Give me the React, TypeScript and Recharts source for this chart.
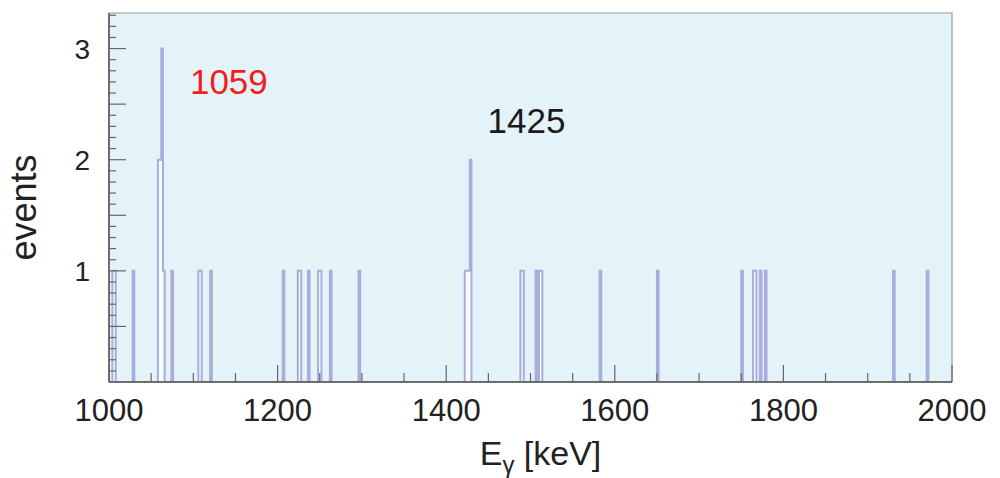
import React from 'react'
import { ComposedChart, Area, XAxis, YAxis, CartesianGrid, ReferenceArea, ReferenceDot } from 'recharts'

// 2 keV bins, only non-empty bins listed
const binWidth = 2
const binStarts = [
  1004, 1006, 1028, 1058, 1060, 1062, 1064, 1074, 1106, 1108, 1120, 1206, 1224, 1226, 1236, 1248, 1250, 1262, 1296,
  1422, 1424, 1426, 1428, 1488, 1490, 1506, 1510, 1512, 1582, 1650, 1750, 1764, 1766, 1772, 1778, 1930, 1970,
]
const binCounts = [
  1, 1, 1, 2, 2, 3, 1, 1, 1, 1, 1, 1, 1, 1, 1, 1, 1, 1, 1,
  1, 1, 1, 2, 1, 1, 1, 1, 1, 1, 1, 1, 1, 1, 1, 1, 1, 1,
]

const xLabels = [1000, 1200, 1400, 1600, 1800, 2000]
const yLabels = [1, 2, 3]
const peakLabels = ['1059', '1425']
const peakColors = ['#f41c1c', '#1a1a1a']
const peakX = [1096, 1449]
const peakY = [2.59, 2.24]

const X_MIN = 1000
const X_MAX = 2000
const Y_MAX = 3.32

const histData: { e: number; n: number }[] = []
for (let e = X_MIN; e <= X_MAX; e += binWidth) {
  const i = binStarts.indexOf(e)
  histData.push({ e, n: i >= 0 ? binCounts[i] : 0 })
}

const xTicks = Array.from({ length: 21 }, (_, i) => X_MIN + i * 50)
const yTicks = Array.from({ length: 33 }, (_, i) => (i + 1) / 10)

const FONT = '"Liberation Sans", Arial, Helvetica, sans-serif'
const TEXT = '#222'
const AXIS = '#666'

function XTick(props: any) {
  const { x, y, payload } = props
  const v = payload.value
  const major = v % 200 === 0
  return (
    <g>
      <line x1={x} x2={x} y1={y} y2={y - (major ? 17 : 9)} stroke={AXIS} strokeWidth={1.2} />
      {xLabels.includes(v) && (
        <text x={x} y={y + 39} textAnchor="middle" fontSize={31} fill={TEXT} fontFamily={FONT}>
          {v}
        </text>
      )}
    </g>
  )
}

function YTick(props: any) {
  const { x, y, payload } = props
  const v = payload.value
  const half = Math.abs(v * 2 - Math.round(v * 2)) < 1e-6
  const label = yLabels.find((l) => Math.abs(l - v) < 1e-6)
  return (
    <g>
      <line x1={x} x2={x + (half ? 17 : 7)} y1={y} y2={y} stroke={AXIS} strokeWidth={1.2} />
      {label !== undefined && (
        <text x={x - 19} y={y + 10} textAnchor="end" fontSize={28} fill={TEXT} fontFamily={FONT}>
          {label}
        </text>
      )}
    </g>
  )
}

function XTitle(props: any) {
  const { viewBox } = props
  const cx = viewBox.x + viewBox.width / 2 + 10
  return (
    <text x={cx} y={viewBox.y + 83} textAnchor="middle" fontSize={34} fill={TEXT} fontFamily={FONT}>
      <tspan>E</tspan>
      <tspan fontSize={24} dy={8}>γ</tspan>
      <tspan dy={-8}> [keV]</tspan>
    </text>
  )
}

function YTitle(props: any) {
  const { viewBox } = props
  const cy = viewBox.y + viewBox.height / 2 + 10
  return (
    <text
      x={36}
      y={cy}
      transform={`rotate(-90 36 ${cy})`}
      textAnchor="middle"
      fontSize={36}
      fill={TEXT}
      fontFamily={FONT}
    >
      events
    </text>
  )
}

function PeakText(props: any) {
  const { viewBox, text, color } = props
  return (
    <text x={viewBox.x} y={viewBox.y} textAnchor="start" fontSize={35} fill={color} fontFamily={FONT}>
      {text}
    </text>
  )
}

export default function App() {
  return (
    <div style={{ position: 'absolute', left: 0, top: 0, background: '#fff' }}>
      <ComposedChart width={1000} height={478} data={histData} margin={{ top: 13, right: 48, left: 0, bottom: 0 }}>
        <CartesianGrid fill="#e3f3f8" fillOpacity={1} horizontal={false} vertical={false} />
        <XAxis
          type="number"
          dataKey="e"
          domain={[X_MIN, X_MAX]}
          ticks={xTicks}
          interval={0}
          tickSize={0}
          tickMargin={0}
          tick={(p: any) => <XTick {...p} />}
          axisLine={{ stroke: '#555', strokeWidth: 1.5 }}
          height={96}
          allowDataOverflow
          label={(p: any) => <XTitle {...p} />}
        />
        <YAxis
          type="number"
          domain={[0, Y_MAX]}
          ticks={yTicks}
          interval={0}
          tickSize={0}
          tickMargin={0}
          tick={(p: any) => <YTick {...p} />}
          axisLine={{ stroke: '#555', strokeWidth: 1.5 }}
          width={109}
          allowDataOverflow
          label={(p: any) => <YTitle {...p} />}
        />
        <Area
          type="stepAfter"
          dataKey="n"
          stroke="#a8addb"
          strokeWidth={2}
          fill="#f8fcfe"
          fillOpacity={1}
          dot={false}
          activeDot={false}
          isAnimationActive={false}
        />
        <ReferenceArea x1={X_MIN} x2={X_MAX} y1={0} y2={Y_MAX} fill="none" stroke="#9a9a9a" strokeWidth={1.2} ifOverflow="visible" />
        {peakLabels.map((t, i) => (
          <ReferenceDot
            key={t}
            x={peakX[i]}
            y={peakY[i]}
            r={0}
            stroke="none"
            fill="none"
            ifOverflow="visible"
            label={<PeakText text={t} color={peakColors[i]} />}
          />
        ))}
      </ComposedChart>
    </div>
  )
}
